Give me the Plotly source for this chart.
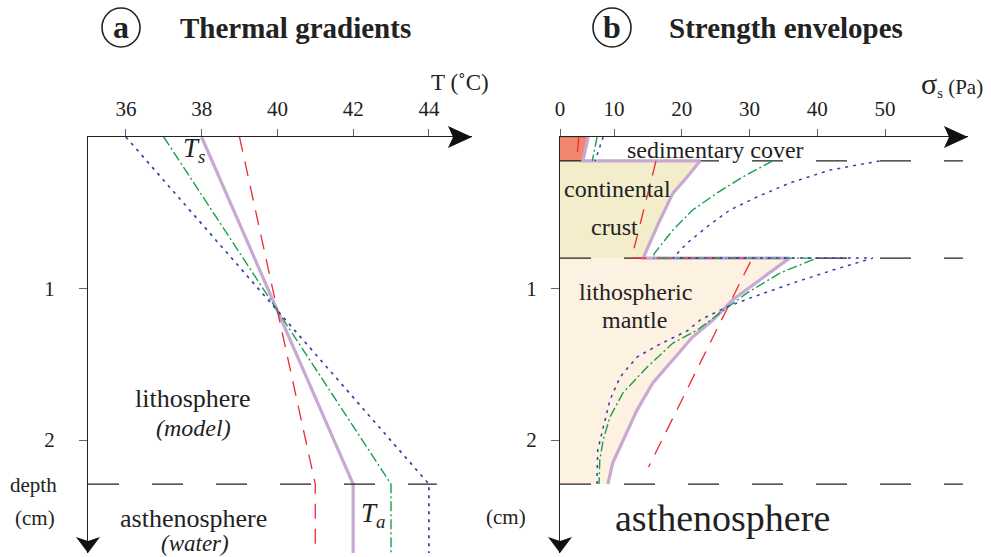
import plotly.graph_objects as go

W, H = 991, 557
SERIF = "Liberation Serif"

# ---------------- data: panel a (thermal gradients) ----------------
series_names = ["red", "purple", "green", "blue"]
t_surface = [39.0, 38.0, 37.0, 36.0]      # T at depth 0 (deg C)
t_base = [41.0, 42.0, 43.0, 44.0]         # T at base of lithosphere (deg C)
lith_base_depth = 2.29                    # cm
bottom_depth = 2.745                      # cm (end of depth axis)
temp_ticks = [36, 38, 40, 42, 44]
depth_ticks = [1, 2]

# ---------------- data: panel b (strength envelopes) ----------------
layer_depths = [0.158, 0.799, 2.29]       # sediment/crust, crust/mantle, lithosphere base
strength_ticks = [2.03, 10, 20, 30, 40, 50]
strength_tick_text = ["0", "10", "20", "30", "40", "50"]

# purple (reference envelope)
pu_sed_d = [0.0, 0.158]
pu_sed_s = [6.2, 5.4]
pu_cr_d = [0.158, 0.264, 0.370, 0.576, 0.799]
pu_cr_s = [22.7, 20.8, 18.7, 16.5, 14.3]
pu_ma_d = [0.799, 1.076, 1.208, 1.320, 1.472, 1.624, 1.802, 2.0, 2.152, 2.29]
pu_ma_s = [35.9, 27.5, 24.6, 21.6, 18.7, 15.7, 13.4, 11.3, 9.8, 9.1]

# green (dash-dot)
gr_sed_d = [0.0, 0.158]
gr_sed_s = [7.5, 6.8]
gr_cr_d = [0.158, 0.264, 0.370, 0.482, 0.614, 0.766, 0.799]
gr_cr_s = [33.4, 29.0, 25.2, 21.6, 18.7, 16.0, 15.7]
gr_ma_d = [0.799, 0.898, 1.030, 1.162, 1.274, 1.360, 1.518, 1.690, 1.848, 2.0, 2.132, 2.29]
gr_ma_s = [39.9, 34.5, 29.6, 25.6, 22.3, 18.7, 14.9, 11.3, 9.4, 8.4, 7.9, 7.8]

# blue (dotted)
bl_sed_d = [0.0, 0.158]
bl_sed_s = [8.4, 7.2]
bl_cr_d = [0.158, 0.218, 0.304, 0.396, 0.482, 0.594, 0.700, 0.799]
bl_cr_s = [49.2, 41.9, 35.9, 31.1, 27.1, 23.7, 20.8, 18.7]
bl_ma_d = [0.799, 0.878, 0.964, 1.056, 1.122, 1.208, 1.280, 1.366, 1.452, 1.584, 1.736, 1.914, 2.066, 2.244, 2.29]
bl_ma_s = [48.2, 42.3, 36.4, 30.5, 26.6, 22.7, 20.8, 16.8, 13.4, 10.9, 9.4, 8.4, 7.6, 7.5, 7.5]

# red (dashed)
rd_sed_d = [0.0, 0.158]
rd_sed_s = [4.8, 4.5]
rd_cr_d = [0.158, 0.799]
rd_cr_s = [16.2, 12.6]
rd_ma_d = [0.799, 2.178]
rd_ma_s = [30.4, 15.1]

# ---------------- styles ----------------
PURPLE = "#C9A8D3"
GREEN = "#17A04A"
BLUE = "#3B3BA6"
RED = "#EC2A30"
SALMON = "#F0876E"
CRUST = "#F3EDCC"
MANTLE = "#FDF1E2"
INK = "#222222"

styles = {
    "red": dict(color=RED, width=1.3, dash="15px,10px"),
    "purple": dict(color=PURPLE, width=3.2, dash="solid"),
    "green": dict(color=GREEN, width=1.4, dash="10px,3px,2px,3px"),
    "blue": dict(color=BLUE, width=1.7, dash="3px,5px"),
}

# layout geometry (pixels)
LX0, LX1 = 88, 472
RX0, RX1 = 560, 968
YT, YB = 137, 553
XA_RANGE = [35.0, 35.0 + (LX1 - LX0) / 37.875]
XB_RANGE = [(RX0 - 546.25) / 6.775, (RX1 - 546.25) / 6.775]
Y_RANGE = [bottom_depth, 0.0]


def P(px, py):
    return px / W, 1 - py / H


fig = go.Figure()

# ---------- panel a ----------
order = ["purple", "red", "green", "blue"]
for name in order:
    i = series_names.index(name)
    fig.add_trace(go.Scatter(
        x=[t_surface[i], t_base[i], t_base[i]],
        y=[0.0, lith_base_depth, bottom_depth],
        mode="lines", line=styles[name], xaxis="x", yaxis="y",
        showlegend=False, hoverinfo="skip"))

fig.add_trace(go.Scatter(
    x=[XA_RANGE[0], 44.21], y=[lith_base_depth, lith_base_depth],
    mode="lines", line=dict(color=INK, width=1.2, dash="31px,33px"),
    xaxis="x", yaxis="y", showlegend=False, hoverinfo="skip"))

# ---------- panel b fills ----------
x0 = XB_RANGE[0]
fig.add_trace(go.Scatter(
    x=[x0] + pu_sed_s + [x0], y=[0.0] + pu_sed_d + [pu_sed_d[-1]],
    fill="toself", fillcolor=SALMON, mode="lines", line=dict(width=0.6, color="#9a6a60"),
    xaxis="x2", yaxis="y2", showlegend=False, hoverinfo="skip"))
fig.add_trace(go.Scatter(
    x=[x0] + pu_cr_s + [x0], y=[pu_cr_d[0]] + pu_cr_d + [pu_cr_d[-1]],
    fill="toself", fillcolor=CRUST, mode="none",
    xaxis="x2", yaxis="y2", showlegend=False, hoverinfo="skip"))
fig.add_trace(go.Scatter(
    x=[x0] + pu_ma_s + [x0], y=[pu_ma_d[0]] + pu_ma_d + [pu_ma_d[-1]],
    fill="toself", fillcolor=MANTLE, mode="none",
    xaxis="x2", yaxis="y2", showlegend=False, hoverinfo="skip"))

# boundary dashed lines
for d in layer_depths:
    fig.add_trace(go.Scatter(
        x=[x0, 61.5], y=[d, d], mode="lines",
        line=dict(color=INK, width=1.2, dash="31px,33px"),
        xaxis="x2", yaxis="y2", showlegend=False, hoverinfo="skip"))

# envelopes
fig.add_trace(go.Scatter(
    x=pu_sed_s + pu_cr_s + pu_ma_s, y=pu_sed_d + pu_cr_d + pu_ma_d,
    mode="lines", line=styles["purple"], xaxis="x2", yaxis="y2",
    showlegend=False, hoverinfo="skip"))
for name, sd, ss, cd, cs, md, ms in [
    ("red", rd_sed_d, rd_sed_s, rd_cr_d, rd_cr_s, rd_ma_d, rd_ma_s),
    ("green", gr_sed_d, gr_sed_s, gr_cr_d, gr_cr_s, gr_ma_d, gr_ma_s),
    ("blue", bl_sed_d, bl_sed_s, bl_cr_d, bl_cr_s, bl_ma_d, bl_ma_s),
]:
    st = dict(styles[name])
    st["width"] = min(st["width"], 1.5)
    fig.add_trace(go.Scatter(
        x=ss + [None] + cs + ms, y=sd + [None] + cd + md,
        mode="lines", line=st, xaxis="x2", yaxis="y2",
        connectgaps=False, showlegend=False, hoverinfo="skip"))

# ---------- axes ----------
common_x = dict(side="top", showline=True, linecolor=INK, linewidth=1.3,
                ticks="outside", ticklen=7, tickcolor="#666", tickwidth=1,
                showgrid=False, zeroline=False, ticklabelstandoff=4, automargin=False,
                tickfont=dict(family=SERIF, size=21, color=INK))
common_y = dict(showline=True, linecolor=INK, linewidth=1.3,
                ticks="outside", ticklen=8, tickcolor="#666", tickwidth=1,
                showgrid=False, zeroline=False, range=Y_RANGE, automargin=False,
                tickvals=depth_ticks, ticktext=[str(t) for t in depth_ticks],
                tickfont=dict(family=SERIF, size=21, color=INK))

fig.update_layout(
    width=W, height=H, margin=dict(l=0, r=0, t=0, b=0, pad=0), autosize=False,
    paper_bgcolor="white", plot_bgcolor="rgba(0,0,0,0)",
    font=dict(family=SERIF, color=INK),
    xaxis=dict(common_x, domain=[LX0 / W, LX1 / W], range=XA_RANGE,
               tickvals=temp_ticks, ticktext=[str(t) for t in temp_ticks], anchor="y"),
    yaxis=dict(common_y, domain=[1 - YB / H, 1 - YT / H], anchor="x", ticklabelstandoff=20),
    xaxis2=dict(common_x, domain=[RX0 / W, RX1 / W], range=XB_RANGE,
                tickvals=strength_ticks, ticktext=strength_tick_text, anchor="y2"),
    yaxis2=dict(common_y, domain=[1 - YB / H, 1 - YT / H], anchor="x2", ticklabelstandoff=10),
)


# arrowheads at the axis ends (paper coordinates)
def path_paper(points):
    parts = []
    for k, (px, py) in enumerate(points):
        x, y = P(px, py)
        parts.append(("M" if k == 0 else "L") + f"{x:.5f},{y:.5f}")
    return " ".join(parts) + " Z"


shapes = []
for xl, xr in [(LX0, LX1), (RX0, RX1)]:
    shapes.append(dict(type="path", xref="paper", yref="paper",
                       path=path_paper([(xr, YT), (xr - 24, YT - 11), (xr - 19, YT), (xr - 24, YT + 11)]),
                       fillcolor="#111", line=dict(width=0)))
    shapes.append(dict(type="path", xref="paper", yref="paper",
                       path=path_paper([(xl, YB), (xl - 12, YB - 16), (xl, YB - 12), (xl + 12, YB - 16)]),
                       fillcolor="#111", line=dict(width=0)))
# title circles
for cx in (121, 612):
    (ax0, ay0), (ax1, ay1) = P(cx - 19, 8), P(cx + 19, 47)
    shapes.append(dict(type="circle", xref="paper", yref="paper",
                       x0=ax0, x1=ax1, y0=ay1, y1=ay0, line=dict(color=INK, width=1.6)))
fig.update_layout(shapes=shapes)


def ann(text, px, py, size, xanchor="center", **kw):
    x, y = P(px, py)
    fig.add_annotation(text=text, x=x, y=y, xref="paper", yref="paper",
                       xanchor=xanchor, yanchor="middle", showarrow=False,
                       font=dict(family=SERIF, size=size, color=INK), **kw)


ann("<b>a</b>", 121, 27, 32)
ann("<b>Thermal gradients</b>", 295, 28, 29)
ann("<b>b</b>", 612, 27, 32)
ann("<b>Strength envelopes</b>", 786, 28, 29)
ann("T (˚C)", 460, 82, 23)
ann('<span style="font-size:30px">σ</span><sub>s</sub> (Pa)', 952, 84, 21)
ann("<i>T<sub>s</sub></i>", 194, 150, 27)
ann("<i>T<sub>a</sub></i>", 373, 515, 27)
ann("lithosphere", 193, 398, 26)
ann("<i>(model)</i>", 193, 428, 24)
ann("asthenosphere", 193, 518, 26)
ann("<i>(water)</i>", 195, 543, 23)
ann("depth", 33, 485, 21)
ann("(cm)", 35, 518, 21)
ann("(cm)", 506, 517, 21)
ann("sedimentary cover", 715, 150, 24)
ann("continental", 617, 189, 24)
ann("crust", 614, 227, 24)
ann("lithospheric", 635, 292, 24)
ann("mantle", 634, 320, 24)
ann("asthenosphere", 722, 518, 38)

fig.write_html("out.html", config={"responsive": False, "displayModeBar": False},
               post_script="document.body.style.margin='0';document.body.style.overflow='hidden';")
